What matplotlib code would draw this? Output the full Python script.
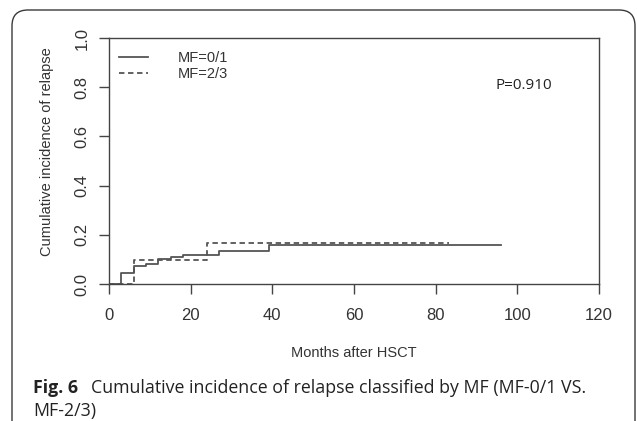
import matplotlib
matplotlib.use('Agg')
import matplotlib.pyplot as plt
from matplotlib.patches import FancyBboxPatch

# cumulative incidence steps
months_01 = [0, 2.9, 6.1, 9.0, 12.1, 15.1, 18.2, 27.0, 39.3, 96.1]
cif_01 = [0, 0.046, 0.073, 0.081, 0.100, 0.108, 0.117, 0.133, 0.160, 0.160]
months_23 = [0, 6.1, 24.1, 83.3]
cif_23 = [0, 0.098, 0.168, 0.168]

labels = ['MF=0/1', 'MF=2/3']
x_ticks = [0, 20, 40, 60, 80, 100, 120]
y_ticks = [0.0, 0.2, 0.4, 0.6, 0.8, 1.0]
p_text = 'P=0.910'
caption_bold = 'Fig. 6'
caption = 'Cumulative incidence of relapse classified by MF (MF-0/1 VS.'
caption2 = 'MF-2/3)'

W, H = 637, 421
fig = plt.figure(figsize=(W / 100, H / 100), dpi=100)
ax = fig.add_axes([109 / W, 1 - 284 / H, 490 / W, 246 / H])

line_col = '#555555'
ax.plot(months_01, cif_01, drawstyle='steps-post', color=line_col, lw=1.3, label=labels[0])
ax.plot(months_23, cif_23, drawstyle='steps-post', color=line_col, lw=1.3,
        ls=(0, (3, 2)), label=labels[1])

ax.set_xlim(0, 120)
ax.set_ylim(0, 1)
ax.set_xticks(x_ticks)
ax.set_yticks(y_ticks)
ax.set_xticklabels([str(t) for t in x_ticks])
ax.set_yticklabels(['%.1f' % t for t in y_ticks], rotation=90, va='center')

for s in ax.spines.values():
    s.set_color('#444444')
    s.set_linewidth(1.0)
ax.tick_params(colors='#444444', length=7, width=1.0, labelsize=12,
               labelcolor='#333333')
ax.tick_params(axis='x', pad=10)
ax.tick_params(axis='y', pad=7)
for lab in ax.get_xticklabels() + ax.get_yticklabels():
    lab.set_family('Liberation Sans')

ax.set_xlabel('Months after HSCT', fontsize=10.5, family='Liberation Sans',
              color='#333333', labelpad=17)
ax.set_ylabel('Cumulative incidence of relapse', fontsize=10.5, family='Liberation Sans',
              color='#333333')
ax.yaxis.set_label_coords(-0.112, 0.54)

leg = ax.legend(loc='upper left', bbox_to_anchor=(0.0, 0.99), frameon=False,
                prop={'family': 'Liberation Sans', 'size': 10.5},
                handlelength=2.0, handletextpad=2.0, labelspacing=0.15,
                borderaxespad=0.3)
for t in leg.get_texts():
    t.set_color('#333333')

ax.text(0.788, 0.805, p_text, transform=ax.transAxes, fontsize=11,
        family='Open Sans', color='#222222', va='center', ha='left')

# rounded frame around the figure
frame = FancyBboxPatch((12 / W, -0.1), 623 / W, 1 - 10 / H + 0.1,
                       boxstyle='round,pad=0,rounding_size=0.025',
                       transform=fig.transFigure, fill=False,
                       edgecolor='#3a3a3a', lw=1.0, mutation_aspect=W / H)
fig.patches.append(frame)

fig.text(33 / W, 1 - 393 / H, caption_bold, fontsize=12.8, weight='bold',
         family='Open Sans', color='#222222', va='baseline')
fig.text(91 / W, 1 - 393 / H, caption, fontsize=12.8,
         family='Open Sans', color='#222222', va='baseline')
fig.text(33 / W, 1 - 416 / H, caption2, fontsize=12.8,
         family='Open Sans', color='#222222', va='baseline')

fig.savefig('out.png', dpi=100)
